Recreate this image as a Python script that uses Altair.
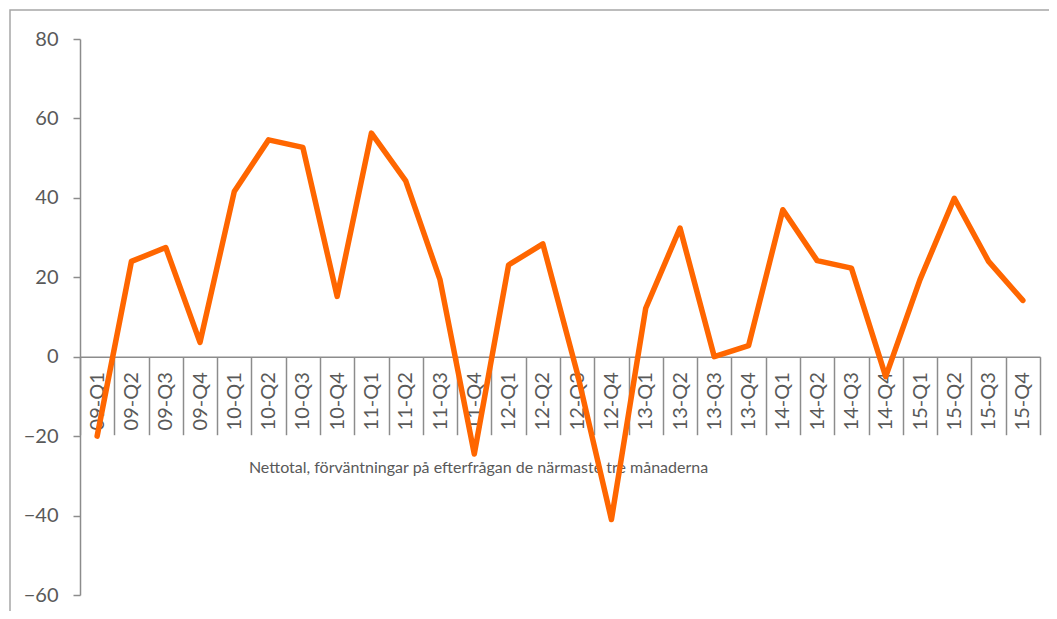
import altair as alt
import pandas as pd

quarters = ["09-Q1", "09-Q2", "09-Q3", "09-Q4",
            "10-Q1", "10-Q2", "10-Q3", "10-Q4",
            "11-Q1", "11-Q2", "11-Q3", "11-Q4",
            "12-Q1", "12-Q2", "12-Q3", "12-Q4",
            "13-Q1", "13-Q2", "13-Q3", "13-Q4",
            "14-Q1", "14-Q2", "14-Q3", "14-Q4",
            "15-Q1", "15-Q2", "15-Q3", "15-Q4"]
values = [-20.0, 24.0, 27.5, 3.6,
          41.6, 54.6, 52.7, 15.2,
          56.3, 44.3, 19.4, -24.5,
          23.1, 28.4, -4.0, -41.0,
          12.2, 32.4, 0.0, 2.8,
          37.0, 24.2, 22.3, -5.0,
          19.4, 39.9, 24.0, 14.2]
y_ticks = [-60, -40, -20, 0, 20, 40, 60, 80]
axis_title = "Nettotal, förväntningar på efterfrågan de närmaste tre månaderna"

df = pd.DataFrame({"q": quarters, "v": values})

W, H = 960, 556
YMIN, YMAX = -60, 80
zero_offset = -H * (0 - YMIN) / (YMAX - YMIN)

FONT = "Lato"
GREY = "#8c8c8c"
TXT = "#595959"

line = alt.Chart(df).mark_line(
    color="#FF6600", strokeWidth=5.5, strokeCap="round", strokeJoin="round"
).encode(
    x=alt.X("q:N", sort=None,
            scale=alt.Scale(type="band", paddingInner=0, paddingOuter=0),
            axis=alt.Axis(orient="bottom", offset=zero_offset,
                          labelAngle=-90, labelAlign="right", labelBaseline="middle",
                          tickBand="extent", tickSize=78, labelPadding=-63,
                          domainColor=GREY, tickColor=GREY, domainWidth=1.5, tickWidth=1.5,
                          labelColor=TXT, labelFont=FONT, labelFontSize=20,
                          title=axis_title, titleFont=FONT, titleFontSize=16,
                          titleFontWeight="normal", titleColor=TXT,
                          titleX=398, titleY=116, titleAlign="center",
                          titleBaseline="alphabetic")),
    y=alt.Y("v:Q",
            scale=alt.Scale(domain=[YMIN, YMAX], nice=False, zero=False),
            axis=alt.Axis(values=y_ticks, grid=False, title=None,
                          tickSize=7, labelPadding=15,
                          domainColor=GREY, tickColor=GREY, domainWidth=1.5, tickWidth=1.5,
                          labelColor=TXT, labelFont=FONT, labelFontSize=20)),
)

frame = alt.Chart(pd.DataFrame({"a": [0]})).mark_rect(
    fill="transparent", stroke="#a6a6a6", strokeWidth=1.5
).encode(
    x=alt.value(-70), x2=alt.value(1000),
    y=alt.value(-29), y2=alt.value(640),
)

chart = alt.layer(frame, line).properties(
    width=W, height=H,
    autosize=alt.AutoSizeParams(type="none"),
    padding={"left": 72, "top": 31, "right": 9, "bottom": 16},
).configure(background="white", view={"stroke": "transparent"})

chart.save("out.html", embed_options={"renderer": "svg", "actions": False})
